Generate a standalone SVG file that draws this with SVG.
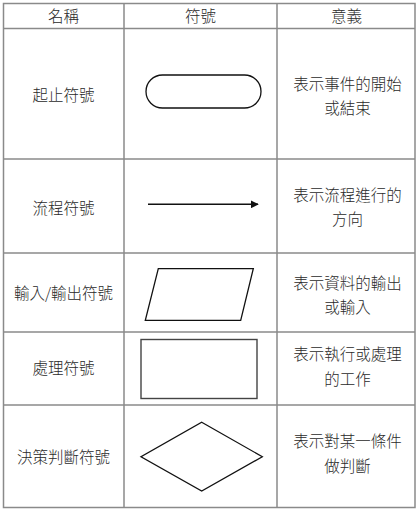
<svg xmlns="http://www.w3.org/2000/svg" width="418" height="512" viewBox="0 0 418 512">
<style>
.grid{stroke:#8a8a8a;stroke-width:1.5;fill:none}
.t{font-family:"Noto Sans CJK TC","Noto Sans CJK SC","Liberation Sans",sans-serif;font-size:15.5px;fill:#2a2a2a;text-anchor:middle;font-weight:300}
.sh{fill:#fff;stroke:#111;stroke-width:1.3}
</style>
<defs>
<marker id="ah" viewBox="0 0 10 10" refX="9" refY="5" markerWidth="8" markerHeight="8" markerUnits="userSpaceOnUse" orient="auto">
<path d="M0,0 L10,5 L0,10 z" fill="#111"/>
</marker>
</defs>
<rect width="418" height="512" fill="#fff"/>
<g id="table">
<rect class="grid" x="3.5" y="3.5" width="411.5" height="504"/>
<line class="grid" x1="124" y1="3.5" x2="124" y2="507.5"/>
<line class="grid" x1="277" y1="3.5" x2="277" y2="507.5"/>
<line class="grid" x1="3.5" y1="28.5" x2="415" y2="28.5"/>
<line class="grid" x1="3.5" y1="159" x2="415" y2="159"/>
<line class="grid" x1="3.5" y1="253" x2="415" y2="253"/>
<line class="grid" x1="3.5" y1="332" x2="415" y2="332"/>
<line class="grid" x1="3.5" y1="405" x2="415" y2="405"/>
</g>
<g id="header">
<text class="t" x="63.5" y="22">名稱</text>
<text class="t" x="200.5" y="22">符號</text>
<text class="t" x="346.5" y="22">意義</text>
</g>
<g id="row-terminal">
<text class="t" x="63.5" y="101">起止符號</text>
<rect class="sh" x="146" y="75" width="115" height="33" rx="16.5"/>
<text class="t" x="347.5" y="89.5">表示事件的開始</text>
<text class="t" x="347.5" y="113.5">或結束</text>
</g>
<g id="row-flow">
<text class="t" x="63.5" y="214">流程符號</text>
<text class="t" x="347.5" y="200.5">表示流程進行的</text>
<text class="t" x="347.5" y="225">方向</text>
</g>
<g id="row-io">
<text class="t" x="63.5" y="298.5">輸入/輸出符號</text>
<polygon class="sh" points="158.3,268.7 253.3,268.7 240.7,320.3 145.3,320.3"/>
<text class="t" x="347.5" y="288.5">表示資料的輸出</text>
<text class="t" x="347.5" y="312.5">或輸入</text>
</g>
<g id="row-process">
<text class="t" x="63.5" y="373.5">處理符號</text>
<rect x="141" y="339.5" width="116" height="59" fill="#fff" stroke="#444" stroke-width="1.4"/>
<text class="t" x="347.5" y="360">表示執行或處理</text>
<text class="t" x="347.5" y="384.5">的工作</text>
</g>
<g id="row-decision">
<text class="t" x="63.5" y="463">決策判斷符號</text>
<polygon class="sh" points="201.7,422.3 262.3,456.7 201.7,491 141,456.7"/>
<text class="t" x="347.5" y="447">表示對某一條件</text>
<text class="t" x="347.5" y="471.5">做判斷</text>
</g>
<g id="connectors">
<line x1="148" y1="204.3" x2="258" y2="204.3" stroke="#111" stroke-width="1.6" marker-end="url(#ah)"/>
</g>
</svg>
